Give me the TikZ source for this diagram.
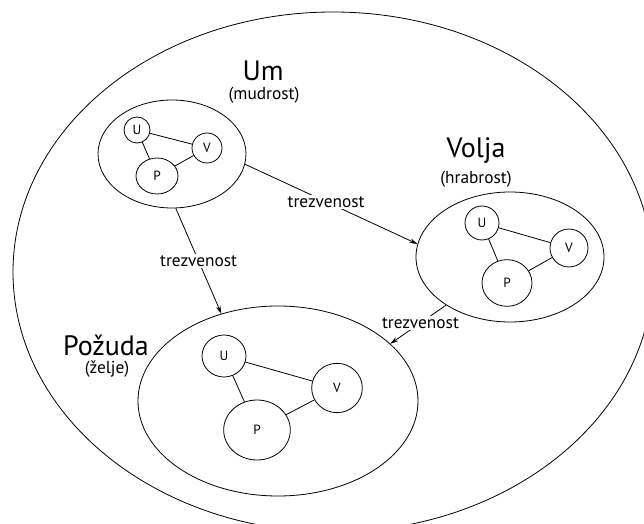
\documentclass[tikz,border=0pt]{standalone}
\usepackage{fontspec}
\setmainfont{PT Sans}
\usetikzlibrary{shapes.geometric,arrows.meta}
\tikzset{
  soul/.style={draw,ellipse,inner sep=0pt},
  part/.style={draw,ellipse,inner sep=0pt,font=\fontsize{10}{12}\selectfont},
  title/.style={inner sep=0pt,font=\fontsize{21}{25}\selectfont},
  sub/.style={inner sep=0pt,font=\fontsize{13}{15}\selectfont},
  virtue/.style={fill=white,inner sep=1pt,font=\fontsize{13}{15}\selectfont},
}

\begin{document}
\begin{tikzpicture}[x=0.75pt,y=-0.75pt,semithick,>={Stealth[length=6pt,width=3.5pt]}]
    \clip (0,0) rectangle (644,524);
    %% Soul
    \node[soul,minimum width=480pt,minimum height=390pt] (D) at (333,272) {};
    %% Um
    \node[soul,minimum width=111pt,minimum height=81pt] (um) at (172,154) {};
    \node[title] (umT) at (263,71) {Um};
    \node[sub] (umS) at (264,95) {(mudrost)};
    \node[part,minimum width=19.5pt,minimum height=19.5pt] (umU) at (137,130) {U};
    \node[part,minimum width=22.5pt,minimum height=22.5pt] (umV) at (207,148) {V};
    \node[part,minimum width=31.5pt,minimum height=27pt] (umP) at (157,176) {P};
    \draw (umU) -- (umV);
    \draw (umU) -- (umP);
    \draw (umP) -- (umV);
    %% Volja
    \node[soul,minimum width=141pt,minimum height=97.5pt] (volja) at (510,257) {};
    \node[title] (voljaT) at (476,151) {Volja};
    \node[sub] (voljaS) at (476,179) {(hrabrost)};
    \node[part,minimum width=25.5pt,minimum height=25.5pt] (voljaU) at (482,223) {U};
    \node[part,minimum width=28.5pt,minimum height=28.5pt] (voljaV) at (569,248) {V};
    \node[part,minimum width=37.5pt,minimum height=35pt] (voljaP) at (507,283) {P};
    \draw (voljaU) -- (voljaV);
    \draw (voljaU) -- (voljaP);
    \draw (voljaP) -- (voljaV);
    %% Pozuda
    \node[soul,minimum width=210pt,minimum height=142.5pt] (pozuda) at (278,401) {};
    \node[title] (pozudaT) at (106,345) {Požuda};
    \node[sub] (pozudaS) at (107,369) {(želje)};
    \node[part,minimum width=33pt,minimum height=31.5pt] (pozudaU) at (224,356) {U};
    \node[part,minimum width=38pt,minimum height=37pt] (pozudaV) at (337,388) {V};
    \node[part,minimum width=50pt,minimum height=45pt] (pozudaP) at (257,430) {P};
    \draw (pozudaU) -- (pozudaV);
    \draw (pozudaU) -- (pozudaP);
    \draw (pozudaP) -- (pozudaV);
    %% Trezvenost
    \draw[->] (um.-8) -- (volja.172) node[virtue,pos=0.47] {trezvenost};
    \draw[->] (um.-86) -- (pozuda.123) node[virtue,pos=0.5] {trezvenost};
    \draw[->] (volja.217) -- (pozuda.27) node[virtue,pos=0.46] {trezvenost};
\end{tikzpicture}
\end{document}
